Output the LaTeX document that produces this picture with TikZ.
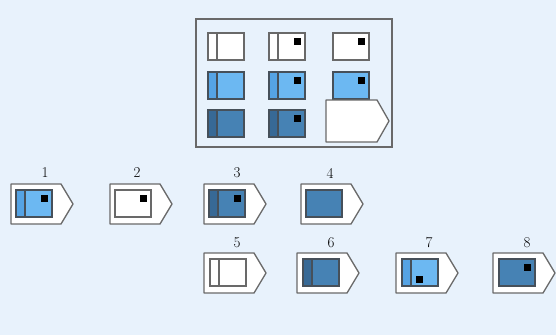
\documentclass[tikz,border=0pt]{standalone}
\usepackage{tikz}
\usetikzlibrary{positioning}
\definecolor{bgblue}{RGB}{232,242,252}
\definecolor{framegray}{RGB}{105,105,105}
\definecolor{inkgray}{RGB}{70,80,90}
\definecolor{lightbody}{RGB}{108,184,242}
\definecolor{lightstrip}{RGB}{85,163,228}
\definecolor{darkbody}{RGB}{70,130,180}
\definecolor{darkstrip}{RGB}{55,105,150}
\newcommand{\badge}[4]% left, top, width, height
{(#1,#2) -- ++({#3-12},0) -- ++(12,{#4/2}) -- ++(-12,{#4/2}) -- ++({12-#3},0) -- cycle
}
\newcommand{\cell}[2]% left, top
{(#1,#2) rectangle ++(36,27)
}
\newcommand{\band}[2]% left, top
{(#1,#2) rectangle ++(9,27)
}
\newcommand{\spot}[2]% left, top
{(#1,#2) rectangle ++(7,7)
}

\begin{document}
\begin{tikzpicture}[x=1pt,y=-1pt]
\tikzstyle{tag}=[draw=framegray,line width=1.3pt,fill=white,line join=round]
\tikzstyle{wcard}=[draw=framegray,line width=1.2pt,fill=white]
\tikzstyle{lcard}=[draw=inkgray,line width=1.2pt,fill=lightbody]
\tikzstyle{lband}=[draw=inkgray,line width=1.2pt,fill=lightstrip]
\tikzstyle{dcard}=[draw=inkgray,line width=1.2pt,fill=darkbody]
\tikzstyle{dband}=[draw=inkgray,line width=1.2pt,fill=darkstrip]
\tikzstyle{num}=[font=\fontsize{15}{15}\selectfont,inner sep=0pt]

\fill[bgblue] (0,0) rectangle (556,335);
\useasboundingbox (0,0) rectangle (556,335);

% question box
\draw[framegray,line width=1.4pt] (196,19) rectangle (392,147);
% row 1
\draw[wcard] \cell{208}{33}; \draw[wcard] \band{208}{33};
\draw[wcard] \cell{269}{33}; \draw[wcard] \band{269}{33}; \fill \spot{294}{38};
\draw[wcard] \cell{333}{33}; \fill \spot{358}{38};
% row 2
\draw[lcard] \cell{208}{72}; \draw[lband] \band{208}{72};
\draw[lcard] \cell{269}{72}; \draw[lband] \band{269}{72}; \fill \spot{294}{77};
\draw[lcard] \cell{333}{72}; \fill \spot{358}{77};
% row 3
\draw[dcard] \cell{208}{110}; \draw[dband] \band{208}{110};
\draw[dcard] \cell{269}{110}; \draw[dband] \band{269}{110}; \fill \spot{294}{115};
\draw[tag] \badge{326}{100}{63}{42}; % missing one

% answers, first row
\draw[tag] \badge{11}{184}{62}{40}; % 1
\draw[lcard] \cell{16}{190}; \draw[lband] \band{16}{190}; \fill \spot{41}{195};
\draw[tag] \badge{110}{184}{62}{40}; % 2
\draw[wcard] \cell{115}{190}; \fill \spot{140}{195};
\draw[tag] \badge{204}{184}{62}{40}; % 3
\draw[dcard] \cell{209}{190}; \draw[dband] \band{209}{190}; \fill \spot{234}{195};
\draw[tag] \badge{301}{184}{62}{40}; % 4
\draw[dcard] \cell{306}{190};

% answers, second row
\draw[tag] \badge{204}{253}{62}{40}; % 5
\draw[wcard] \cell{210}{259}; \draw[wcard] \band{210}{259};
\draw[tag] \badge{297}{253}{62}{40}; % 6
\draw[dcard] \cell{303}{259}; \draw[dband] \band{303}{259};
\draw[tag] \badge{396}{253}{62}{40}; % 7
\draw[lcard] \cell{402}{259}; \draw[lband] \band{402}{259}; \fill \spot{416}{276};
\draw[tag] \badge{493}{253}{62}{40}; % 8
\draw[dcard] \cell{499}{259}; \fill \spot{524}{264};

% numbers
\draw (45,173) node[num] (n1) {1};
\draw (137,173) node[num] (n2) {2};
\draw (237,173) node[num] (n3) {3};
\draw (330,173) node[num] (n4) {4};
\draw (237,243) node[num] (n5) {5};
\draw (331,243) node[num] (n6) {6};
\draw (429,243) node[num] (n7) {7};
\draw (527,243) node[num] (n8) {8};
\end{tikzpicture}
\end{document}
